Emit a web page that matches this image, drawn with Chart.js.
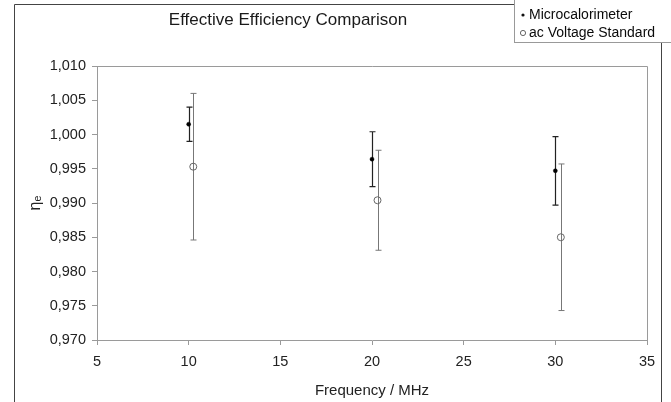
<!DOCTYPE html>
<html>
<head>
<meta charset="utf-8">
<script src="https://cdn.jsdelivr.net/npm/chart.js@4.4.0/dist/chart.umd.min.js"></script>
<style>
  html, body { margin: 0; padding: 0; background: #fff; }
</style>
</head>
<body>
<canvas id="myChart" width="671" height="402"></canvas>
<script>
var chartTitle = "Effective Efficiency Comparison";
var seriesNames = ["Microcalorimeter", "ac Voltage Standard"];
var microFreq = [10, 20, 30];
var microValues = [1.0015, 0.9964, 0.9947];
var microErrors = [0.0025, 0.0040, 0.0050];
var acFreq = [10.25, 20.3, 30.3];
var acValues = [0.9953, 0.9904, 0.9850];
var acErrors = [0.0107, 0.0073, 0.0107];

var fontFamily = "'Liberation Sans', Arial, 'DejaVu Sans', sans-serif";

function points(xs, ys) {
  return xs.map(function (x, i) { return { x: x, y: ys[i] }; });
}

// vertical error bars with caps, drawn under the markers
var errorBars = {
  id: 'errorBars',
  beforeDatasetsDraw: function (chart) {
    var ctx = chart.ctx;
    var xs = chart.scales.x, ys = chart.scales.y;
    var area = chart.chartArea;

    // plot area border (top and right sides)
    ctx.save();
    ctx.strokeStyle = '#9a9a9a';
    ctx.lineWidth = 1;
    ctx.beginPath();
    ctx.moveTo(area.left, Math.round(area.top) + 0.5);
    ctx.lineTo(Math.round(area.right) + 0.5, Math.round(area.top) + 0.5);
    ctx.lineTo(Math.round(area.right) + 0.5, area.bottom);
    ctx.stroke();
    ctx.restore();

    chart.data.datasets.forEach(function (ds) {
      ctx.save();
      ctx.strokeStyle = ds.errorColor;
      ctx.lineWidth = ds.errorWidth;
      ds.data.forEach(function (p, i) {
        var px = Math.round(xs.getPixelForValue(p.x)) + 0.5;
        var top = ys.getPixelForValue(p.y + ds.errors[i]);
        var bot = ys.getPixelForValue(p.y - ds.errors[i]);
        ctx.beginPath();
        ctx.moveTo(px, top);
        ctx.lineTo(px, bot);
        ctx.moveTo(px - 3, top);
        ctx.lineTo(px + 3, top);
        ctx.moveTo(px - 3, bot);
        ctx.lineTo(px + 3, bot);
        ctx.stroke();
      });
      ctx.restore();
    });
  }
};

// chart title, legend box and outer frame
var decorations = {
  id: 'decorations',
  afterDraw: function (chart) {
    var ctx = chart.ctx;
    ctx.save();
    ctx.strokeStyle = '#444';
    ctx.lineWidth = 1;
    ctx.beginPath();
    ctx.moveTo(14.5, 402);
    ctx.lineTo(14.5, 4.5);
    ctx.lineTo(661.5, 4.5);
    ctx.lineTo(661.5, 402);
    ctx.stroke();

    ctx.fillStyle = '#1a1a1a';
    ctx.font = '17px ' + fontFamily;
    ctx.textAlign = 'center';
    ctx.textBaseline = 'middle';
    ctx.fillText(chartTitle, 288, 20);

    // legend
    ctx.fillStyle = '#fff';
    ctx.fillRect(514, 0, 157, 42);
    ctx.strokeStyle = '#999';
    ctx.strokeRect(514.5, -1, 158, 43.5);

    ctx.fillStyle = '#111';
    ctx.beginPath();
    ctx.arc(523, 15, 1.6, 0, Math.PI * 2);
    ctx.fill();
    ctx.strokeStyle = '#666';
    ctx.beginPath();
    ctx.arc(523, 33, 2.6, 0, Math.PI * 2);
    ctx.stroke();

    ctx.fillStyle = '#0a0a0a';
    ctx.font = '14px ' + fontFamily;
    ctx.textAlign = 'left';
    ctx.fillText(seriesNames[0], 529, 15);
    ctx.fillText(seriesNames[1], 529, 33);
    ctx.restore();
  }
};

var ctx = document.getElementById('myChart');
var myChart = new Chart(ctx, {
  type: 'scatter',
  data: {
    datasets: [{
      label: seriesNames[0],
      data: points(microFreq, microValues),
      errors: microErrors,
      errorColor: '#222',
      errorWidth: 1.2,
      pointStyle: 'circle',
      pointRadius: 2,
      pointBackgroundColor: '#000',
      pointBorderColor: '#000',
      pointBorderWidth: 0.5
    }, {
      label: seriesNames[1],
      data: points(acFreq, acValues),
      errors: acErrors,
      errorColor: '#777',
      errorWidth: 1,
      pointStyle: 'circle',
      pointRadius: 3.5,
      pointBackgroundColor: 'rgba(255,255,255,0)',
      pointBorderColor: '#666',
      pointBorderWidth: 1
    }]
  },
  options: {
    responsive: false,
    animation: false,
    layout: { padding: { top: 66, right: 24, bottom: 0, left: 0 } },
    plugins: {
      legend: { display: false },
      title: { display: false },
      tooltip: { enabled: false }
    },
    scales: {
      x: {
        type: 'linear',
        min: 5,
        max: 35,
        afterFit: function (scale) { scale.height = 62; },
        ticks: {
          stepSize: 5,
          padding: 8,
          color: '#222',
          font: { family: fontFamily, size: 14.5 },
          maxRotation: 0
        },
        grid: { drawOnChartArea: false, tickLength: 5, color: '#9a9a9a' },
        border: { color: '#9a9a9a' },
        title: {
          display: true,
          text: 'Frequency / MHz',
          color: '#222',
          font: { family: fontFamily, size: 15 },
          padding: { top: 0, bottom: 2 }
        }
      },
      y: {
        type: 'linear',
        min: 0.970,
        max: 1.010,
        afterFit: function (scale) { scale.width = 97; },
        ticks: {
          stepSize: 0.005,
          padding: 6,
          color: '#222',
          font: { family: fontFamily, size: 14.5 },
          callback: function (v) { return v.toFixed(3).replace('.', ','); }
        },
        grid: { drawOnChartArea: false, tickLength: 5, color: '#9a9a9a' },
        border: { color: '#9a9a9a' },
        title: {
          display: true,
          text: 'ηₑ',
          color: '#222',
          font: { family: fontFamily, size: 16 },
          padding: { top: 26, bottom: 0 }
        }
      }
    }
  },
  plugins: [errorBars, decorations]
});
</script>
</body>
</html>
